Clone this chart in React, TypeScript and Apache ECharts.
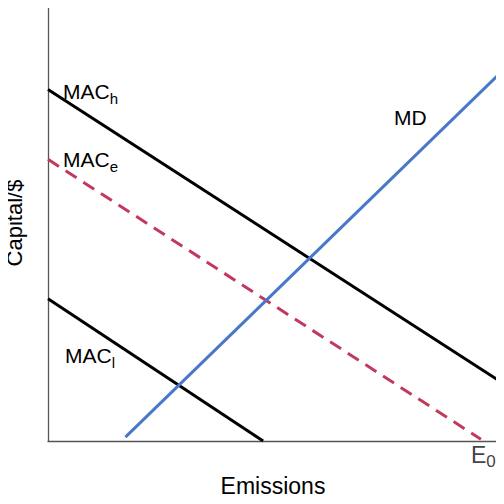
import React from "react";
import * as echarts from "echarts";

// lines, x = emissions (0-100), y = capital (0-100)
const macHigh = [[0, 80.6], [100, 14.0]];
const macExpected = [[0, 64.6], [96.2, 0.4]];
const macLow = [[0, 32.6], [47.8, 0]];
const marginalDamage = [[17.2, 0.9], [100, 83.9]];

// label text + baseline position in px
const lineLabels = [
  { main: "MAC", sub: "h", x: 63, y: 98, size: 21, subSize: 15, color: "#000" },
  { main: "MAC", sub: "e", x: 63, y: 166, size: 21, subSize: 15, color: "#000" },
  { main: "MAC", sub: "l", x: 65, y: 362, size: 21, subSize: 15, color: "#000" },
  { main: "MD", sub: "", x: 394, y: 124, size: 21, subSize: 15, color: "#000" },
  { main: "E", sub: "0", x: 471, y: 462, size: 23, subSize: 17, color: "#444" },
];

const FONT = "Liberation Sans, Arial, sans-serif";

export default function App() {
  const ref = React.useRef<HTMLDivElement>(null);

  React.useEffect(() => {
    if (!ref.current) return;
    const chart = echarts.init(ref.current, null, { renderer: "svg" });

    const lineSeries = (data: number[][], color: string, type: any = "solid") => ({
      type: "line",
      data,
      symbol: "none",
      silent: true,
      lineStyle: { color, width: 3, type },
    });

    const texts: any[] = [];
    lineLabels.forEach((l) => {
      const w = (echarts.format as any).getTextRect?.(l.main, `${l.size}px ${FONT}`)?.width;
      const mainWidth = w ?? l.main.length * l.size * 0.74;
      texts.push({
        type: "text",
        x: l.x,
        y: l.y + 4,
        style: {
          text: l.main,
          fontSize: l.size,
          fontFamily: FONT,
          fill: l.color,
          verticalAlign: "bottom",
        },
      });
      if (l.sub) {
        texts.push({
          type: "text",
          x: l.x + mainWidth,
          y: l.y + 8,
          style: {
            text: l.sub,
            fontSize: l.subSize,
            fontFamily: FONT,
            fill: l.color,
            verticalAlign: "bottom",
          },
        });
      }
    });

    const option: any = {
      animation: false,
      backgroundColor: "#ffffff",
      textStyle: { fontFamily: FONT },
      grid: { left: 48, right: 6, top: 5, bottom: 63, outerBoundsMode: "none", containLabel: false },
      xAxis: {
        type: "value",
        min: 0,
        max: 100,
        name: "Emissions",
        nameLocation: "middle",
        nameGap: 33,
        nameTextStyle: { fontSize: 23, color: "#000", fontFamily: FONT },
        axisLine: { show: true, lineStyle: { color: "#555", width: 1.3 } },
        axisTick: { show: false },
        splitLine: { show: false },
        axisLabel: { show: false },
      },
      yAxis: {
        type: "value",
        min: 0,
        max: 100,
        name: "Capital/$",
        nameLocation: "middle",
        nameGap: 23,
        nameTextStyle: { fontSize: 22, color: "#000", fontFamily: FONT },
        axisLine: { show: true, lineStyle: { color: "#555", width: 1.3 } },
        axisTick: { show: false },
        axisLabel: { show: false },
        splitLine: { show: false },
      },
      series: [
        lineSeries(macHigh, "#000000"),
        lineSeries(macExpected, "#c2395e", [13, 8]),
        lineSeries(macLow, "#000000"),
        lineSeries(marginalDamage, "#4a78c8"),
      ],
      graphic: texts,
    };

    chart.setOption(option);
    return () => chart.dispose();
  }, []);

  return <div ref={ref} style={{ width: 504, height: 504, margin: -8 }} />;
}
